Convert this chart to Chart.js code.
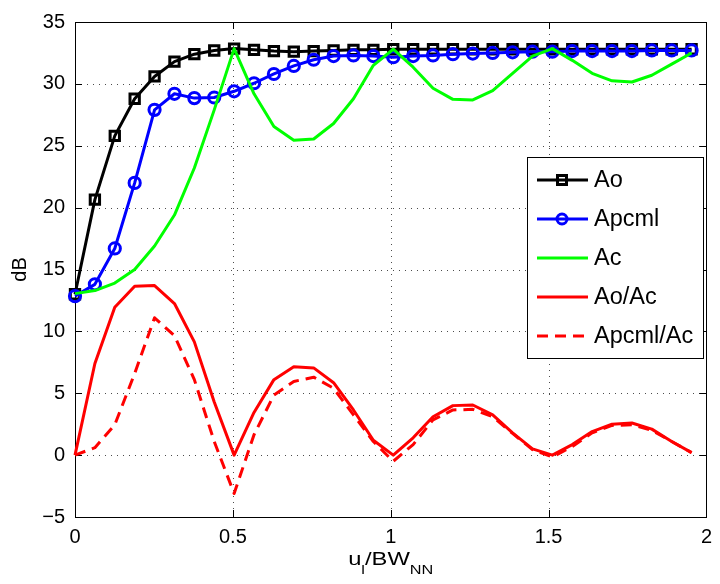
<!DOCTYPE html>
<html>
<head>
<meta charset="utf-8">
<script src="https://cdn.jsdelivr.net/npm/chart.js@4/dist/chart.umd.min.js"></script>
<style>
  body { margin: 0; background: #fff; }
  #wrap { width: 720px; height: 584px; position: relative; }
</style>
</head>
<body>
<div id="wrap"><canvas id="myLineChart"></canvas></div>
<script>
// u_l / BW_NN sample positions
const xVals = [0, 0.063, 0.126, 0.189, 0.252, 0.315, 0.378, 0.441, 0.504, 0.567, 0.63, 0.693, 0.756, 0.819, 0.882, 0.945,
    1.008, 1.071, 1.134, 1.197, 1.26, 1.323, 1.386, 1.449, 1.512, 1.575, 1.638, 1.701, 1.764, 1.827, 1.89, 1.953];

const ao = [13.0, 20.65, 25.8, 28.8, 30.6, 31.8, 32.4, 32.7, 32.85, 32.75, 32.65, 32.6, 32.65, 32.7, 32.75, 32.75,
    32.8, 32.8, 32.8, 32.8, 32.8, 32.8, 32.8, 32.8, 32.8, 32.8, 32.8, 32.8, 32.8, 32.8, 32.8, 32.8];
const apcml = [12.85, 13.8, 16.7, 22.0, 27.9, 29.2, 28.85, 28.9, 29.4, 30.05, 30.8, 31.45, 31.95, 32.25, 32.3, 32.25,
    32.15, 32.25, 32.3, 32.4, 32.45, 32.5, 32.55, 32.6, 32.6, 32.65, 32.65, 32.65, 32.65, 32.7, 32.7, 32.7];
const ac = [13.05, 13.3, 13.9, 15.0, 16.9, 19.4, 23.2, 27.9, 32.85, 29.2, 26.55, 25.45, 25.55, 26.8, 28.8, 31.5,
    32.8, 31.35, 29.65, 28.75, 28.7, 29.45, 30.85, 32.25, 32.85, 31.9, 30.85, 30.25, 30.15, 30.7, 31.6, 32.5];
const aoAc = [0, 7.4, 11.95, 13.65, 13.7, 12.25, 9.15, 4.3, 0, 3.45, 6.1, 7.15, 7.05, 5.85, 3.65, 1.2,
    0, 1.4, 3.1, 4.0, 4.05, 3.25, 1.8, 0.5, 0, 0.85, 1.9, 2.5, 2.6, 2.1, 1.1, 0.2];
const apcmlAc = [0, 0.6, 2.45, 6.6, 11.1, 9.65, 6.1, 1.1, -3.1, 1.65, 4.85, 5.95, 6.3, 5.4, 3.25, 1.1,
    -0.5, 0.85, 2.85, 3.65, 3.7, 3.1, 1.75, 0.45, -0.15, 0.7, 1.8, 2.4, 2.45, 2.0, 1.1, 0.2];

const xTicks = [0, 0.5, 1, 1.5, 2];
const yTicks = [-5, 0, 5, 10, 15, 20, 25, 30, 35];
const seriesNames = ['Ao', 'Apcml', 'Ac', 'Ao/Ac', 'Apcml/Ac'];

const FONT = 'Liberation Sans, Arial, Helvetica, sans-serif';
Chart.defaults.font.family = FONT;
Chart.defaults.color = '#000';

function pts(ys) {
    return ys.map((y, i) => ({ x: xVals[i], y: y }));
}

// dotted grid, box and inward ticks like a matlab axes
const axesBox = {
    id: 'axesBox',
    beforeDatasetsDraw(chart) {
        const { ctx, chartArea: a, scales } = chart;
        ctx.save();
        ctx.strokeStyle = 'rgba(0,0,0,0.7)';
        ctx.lineWidth = 1;
        ctx.setLineDash([1, 5]);
        xTicks.forEach(v => {
            const px = Math.round(scales.x.getPixelForValue(v)) + 0.5;
            ctx.beginPath(); ctx.moveTo(px, a.top); ctx.lineTo(px, a.bottom); ctx.stroke();
        });
        yTicks.forEach(v => {
            const py = Math.round(scales.y.getPixelForValue(v)) + 0.5;
            ctx.beginPath(); ctx.moveTo(a.left, py); ctx.lineTo(a.right, py); ctx.stroke();
        });
        ctx.setLineDash([]);
        ctx.strokeStyle = '#000';
        ctx.strokeRect(Math.round(a.left) + 0.5, Math.round(a.top) + 0.5,
            Math.round(a.right - a.left), Math.round(a.bottom - a.top));
        const t = 7;
        ctx.beginPath();
        xTicks.forEach(v => {
            const px = Math.round(scales.x.getPixelForValue(v)) + 0.5;
            ctx.moveTo(px, a.bottom); ctx.lineTo(px, a.bottom - t);
            ctx.moveTo(px, a.top); ctx.lineTo(px, a.top + t);
        });
        yTicks.forEach(v => {
            const py = Math.round(scales.y.getPixelForValue(v)) + 0.5;
            ctx.moveTo(a.left, py); ctx.lineTo(a.left + t, py);
            ctx.moveTo(a.right, py); ctx.lineTo(a.right - t, py);
        });
        ctx.stroke();
        ctx.restore();
    },
    afterDraw(chart) {
        const { ctx, chartArea: a } = chart;
        ctx.save();
        ctx.fillStyle = '#000';

        // y title
        ctx.font = '20px ' + FONT;
        ctx.textAlign = 'center';
        ctx.textBaseline = 'middle';
        ctx.translate(20, (a.top + a.bottom) / 2);
        ctx.rotate(-Math.PI / 2);
        ctx.fillText('dB', 0, 0);
        ctx.setTransform(1, 0, 0, 1, 0, 0);

        // x title with subscripts: u_l/BW_NN (a bit wider, like the old helvetica render)
        const big = '19px ' + FONT, small = '13px ' + FONT;
        const parts = [['u', big, 0], ['l', small, 9], ['/BW', big, 0], ['NN', small, 9]];
        const sx = 1.25;
        let total = 0;
        parts.forEach(p => { ctx.font = p[1]; total += ctx.measureText(p[0]).width; });
        ctx.translate((a.left + a.right) / 2 - total * sx / 2, 565);
        ctx.scale(sx, 1);
        let x = 0;
        ctx.textAlign = 'left';
        ctx.textBaseline = 'alphabetic';
        parts.forEach(p => {
            ctx.font = p[1];
            ctx.fillText(p[0], x, p[2]);
            x += ctx.measureText(p[0]).width;
        });
        ctx.setTransform(1, 0, 0, 1, 0, 0);

        // legend
        const lx = 527, ly = 157, lw = 176, lh = 201;
        ctx.fillStyle = '#fff';
        ctx.fillRect(lx, ly, lw, lh);
        ctx.strokeStyle = '#000';
        ctx.lineWidth = 1;
        ctx.strokeRect(lx + 0.5, ly + 0.5, lw, lh);
        chart.data.datasets.forEach((ds, i) => {
            const y = 180 + i * 39;
            ctx.strokeStyle = ds.borderColor;
            ctx.lineWidth = ds.borderWidth;
            ctx.setLineDash(ds.borderDash || []);
            ctx.beginPath(); ctx.moveTo(537, y); ctx.lineTo(588, y); ctx.stroke();
            ctx.setLineDash([]);
            if (ds.pointRadius > 0) {
                ctx.lineWidth = ds.pointBorderWidth;
                ctx.beginPath();
                if (ds.pointStyle === 'rect') {
                    ctx.rect(562 - 4.5, y - 4.5, 9, 9);
                } else {
                    ctx.arc(562, y, 5, 0, Math.PI * 2);
                }
                ctx.stroke();
            }
            ctx.fillStyle = '#000';
            ctx.font = '23.5px ' + FONT;
            ctx.textBaseline = 'middle';
            ctx.fillText(ds.label, 594, y + 1);
        });
        ctx.restore();
    }
};

const ctx = document.getElementById('myLineChart');
new Chart(ctx, {
    type: 'line',
    data: {
        datasets: [{
            label: seriesNames[0],
            data: pts(ao),
            borderColor: '#000000',
            borderWidth: 3,
            pointStyle: 'rect',
            pointRadius: 6.6,
            pointBorderWidth: 3,
            pointBackgroundColor: 'rgba(0,0,0,0)',
            pointBorderColor: '#000000',
            order: 5
        }, {
            label: seriesNames[1],
            data: pts(apcml),
            borderColor: '#0000ff',
            borderWidth: 3,
            pointStyle: 'circle',
            pointRadius: 5.6,
            pointBorderWidth: 3,
            pointBackgroundColor: 'rgba(0,0,0,0)',
            pointBorderColor: '#0000ff',
            order: 4
        }, {
            label: seriesNames[2],
            data: pts(ac),
            borderColor: '#00ff00',
            borderWidth: 3,
            pointRadius: 0,
            order: 3
        }, {
            label: seriesNames[3],
            data: pts(aoAc),
            borderColor: '#ff0000',
            borderWidth: 3,
            pointRadius: 0,
            order: 2
        }, {
            label: seriesNames[4],
            data: pts(apcmlAc),
            borderColor: '#ff0000',
            borderWidth: 3,
            borderDash: [11, 7],
            pointRadius: 0,
            order: 1
        }]
    },
    options: {
        responsive: true,
        maintainAspectRatio: false,
        animation: false,
        layout: { padding: { top: 15, right: 7, left: 0, bottom: 0 } },
        datasets: { line: { clip: false, tension: 0, borderJoinStyle: 'round' } },
        plugins: {
            legend: { display: false },
            tooltip: { enabled: false },
            title: { display: false }
        },
        scales: {
            x: {
                type: 'linear',
                min: 0,
                max: 2,
                afterFit: s => { s.height = 67; },
                afterBuildTicks: s => { s.ticks = xTicks.map(v => ({ value: v })); },
                ticks: {
                    font: { size: 20 },
                    padding: 8,
                    maxRotation: 0,
                    callback: v => String(v)
                },
                grid: { display: false, drawTicks: false },
                border: { display: false }
            },
            y: {
                min: -5,
                max: 35,
                afterFit: s => { s.width = 75; },
                afterBuildTicks: s => { s.ticks = yTicks.map(v => ({ value: v })); },
                ticks: {
                    font: { size: 20 },
                    padding: 10,
                    callback: v => String(v).replace('-', '\u2212')
                },
                grid: { display: false, drawTicks: false },
                border: { display: false }
            }
        }
    },
    plugins: [axesBox]
});
</script>
</body>
</html>
